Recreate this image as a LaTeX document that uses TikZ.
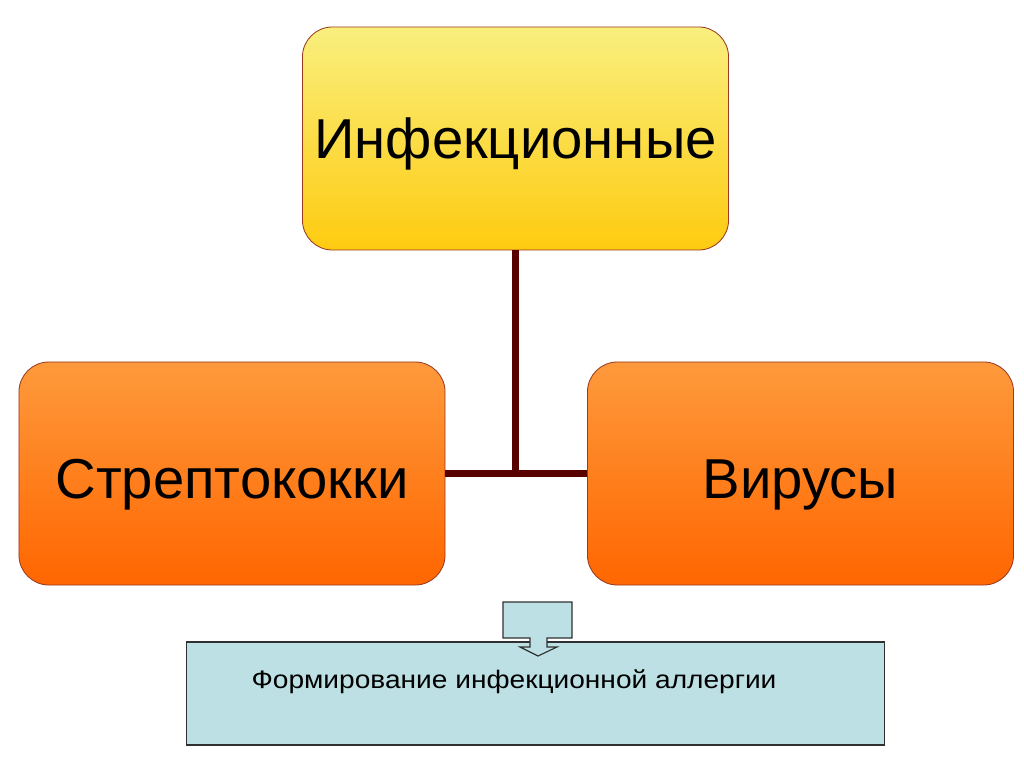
\documentclass[tikz,border=0pt]{standalone}
\usepackage{fontspec}
\setmainfont{Liberation Sans}
\definecolor{yelTop}{HTML}{F9EF7E}
\definecolor{yelBot}{HTML}{FECB10}
\definecolor{orTop}{HTML}{FE9A3C}
\definecolor{orBot}{HTML}{FF6600}
\definecolor{boxEdge}{HTML}{9A3A22}
\definecolor{link}{HTML}{580000}
\definecolor{paleBlue}{HTML}{BDE0E4}
\definecolor{grayEdge}{HTML}{303030}
\tikzset{
  mainbox/.style={draw=boxEdge, line width=0.6pt, rounded corners=0.75cm, minimum width=10.65cm, minimum height=5.575cm, inner sep=0pt, font=\fontsize{40}{44}\selectfont, text height=28.6pt, text depth=0pt},
  yelbox/.style={mainbox, top color=yelTop, bottom color=yelBot},
  orbox/.style={mainbox, top color=orTop, bottom color=orBot},
  linkline/.style={draw=link, line width=4.3pt},
  bluebox/.style={draw=grayEdge, line width=0.8pt, fill=paleBlue},
}
\begin{document}
\begin{tikzpicture}[x=0.025cm,y=-0.025cm]
\useasboundingbox[fill=white] (0,0) rectangle (1024,767);
\node[yelbox] (top) at (515.5,138.5) {Инфекционные};
\node[orbox] (left) at (232,473.5) {\raisebox{-3.5pt}{Стрептококки}};
\node[orbox] (right) at (800.5,473.5) {\raisebox{-3.5pt}{Вирусы}};
\draw[linkline] (top.south) -- (top.south |- left.east);
\draw[linkline] (left.east) -- (right.west);
\node[bluebox, minimum width=17.425cm, minimum height=2.575cm, inner sep=0pt] (bot) at (535.5,693.5) {};
\node[font=\fontsize{18}{20}\selectfont, inner sep=0pt, anchor=base] (bottxt) at (514,688) {\scalebox{1.11}[1]{Формирование инфекционной аллергии}};
\draw[bluebox, line join=miter] (503,602) -- (572,602) -- (572,638) -- (547,638) -- (547,647) -- (557,647) -- (538,656) -- (520,647) -- (530,647) -- (530,638) -- (503,638) -- cycle;
\end{tikzpicture}
\end{document}
